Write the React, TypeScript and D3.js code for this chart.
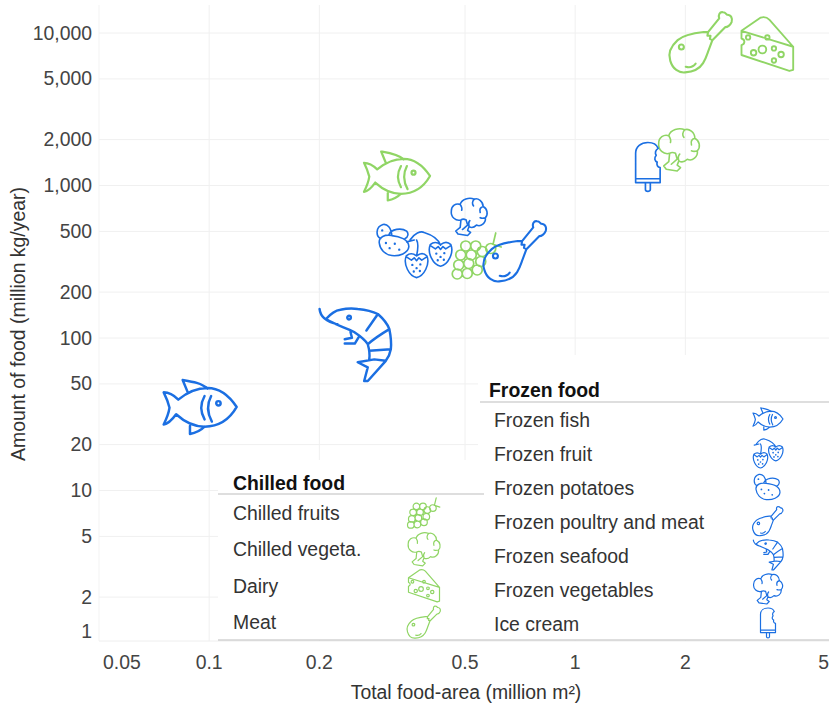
import React from 'react';
import * as d3 from 'd3';

// one row per product, same order in every list
const foodNames = ['Chilled fish', 'Frozen fish', 'Frozen seafood', 'Frozen potatoes', 'Frozen fruit', 'Frozen vegetables', 'Chilled fruits', 'Frozen poultry and meat', 'Meat', 'Dairy', 'Chilled vegeta.', 'Ice cream'];
const foodArea = [0.326, 0.0945, 0.25, 0.32, 0.397, 0.513, 0.54, 0.686, 2.21, 3.35, 1.92, 1.58];
const foodAmount = [1155, 35.3, 90, 439, 355, 622, 345, 372, 8730, 8470, 1710, 1322];

const xTicks = [0.05, 0.1, 0.2, 0.5, 1, 2, 5];
const yTicks = [1, 2, 5, 10, 20, 50, 100, 200, 500, 1000, 2000, 5000, 10000];

const chilledLegend = ['Chilled fruits', 'Chilled vegeta.', 'Dairy', 'Meat'];
const frozenLegend = ['Frozen fish', 'Frozen fruit', 'Frozen potatoes', 'Frozen poultry and meat', 'Frozen seafood', 'Frozen vegetables', 'Ice cream'];

const BLUE = '#1b6fe2';
const GREEN = '#90d565';
const FONT = '"Liberation Sans", Arial, sans-serif';

const dot = (cx: number, cy: number, r: number) =>
  `M${cx - r},${cy}a${r},${r} 0 1 0 ${2 * r},0a${r},${r} 0 1 0 ${-2 * r},0`;

const berry = (x: number, y: number) =>
  `M${x - 22},${y - 17}C${x - 13},${y - 25} ${x - 5},${y - 21} ${x},${y - 17}C${x + 5},${y - 21} ${x + 14},${y - 25} ${x + 22},${y - 17}C${x + 29},${y} ${x + 16},${y + 26} ${x},${y + 29}C${x - 16},${y + 26} ${x - 29},${y} ${x - 22},${y - 17}Z` +
  `M${x - 20},${y - 14}L${x - 11},${y - 8}L${x - 5},${y - 13}L${x},${y - 7}L${x + 5},${y - 13}L${x + 11},${y - 8}L${x + 20},${y - 14}` +
  dot(x - 9, y + 2, 0.8) + dot(x + 8, y + 1, 0.8) + dot(x, y + 9, 0.8) + dot(x - 6, y + 16, 0.8) + dot(x + 7, y + 15, 0.8);

// icon outlines on a 100 x 100 box centred on the origin
const icons: Record<string, string> = {
  fish:
    'M-30,-10C-18,-20 -4,-26 10,-26C28,-26 42,-12 50,0C42,14 28,27 6,27C-8,27 -22,20 -33,10C-38,17 -44,23 -50,24C-46,16 -43,8 -42,1C-44,-7 -47,-14 -50,-20C-42,-20 -36,-16 -30,-10Z' +
    'M-17,-20L-24,-37C-12,-35 2,-33 10,-25M-14,26L-14,37C-8,36 0,33 6,27M6,-15Q-3,1 6,17M15,-15Q6,2 16,20' + dot(25, -5, 3),
  shrimp:
    'M-49,-50C-48,-40 -40,-32 -24,-29M-40,-36C-34,-43 -28,-48 -20,-49C-10,-51 -4,-51 4,-50C14,-49 24,-47 32,-43C40,-36 45,-30 48,-22C50,-12 51,-2 50,6C49,12 46,18 43,22L27,20M-40,-36C-28,-28 -12,-24 -1,-18C8,-12 14,-8 18,-1C20,6 21,14 20,20M32,-43C26,-34 20,-26 16,-20M48,-22C38,-16 28,-10 18,-1M50,6L20,8M27,20L4,24L18,31L13,50L18,50L43,22M-6,-18L-4,-10L-14,-8M6,-12L0,-2L-14,-2' + dot(-8, -38, 2.5),
  potato:
    'M-40,8C-42,-8 -24,-16 -6,-12C14,-10 40,-2 40,18C38,36 14,44 -6,42C-24,40 -38,26 -40,8ZM-36,-4C-50,-10 -50,-36 -30,-42C-18,-44 -8,-34 -6,-12M-14,-14C-8,-30 20,-34 34,-24C40,-18 38,-8 30,-4' +
    dot(-22, 8, 1) + dot(-12, 22, 1) + dot(2, 10, 1) + dot(14, 26, 1) + dot(-32, -26, 1),
  strawberry:
    berry(-25, 21) + berry(26, -3) +
    'M-39,-30C-30,-44 -16,-50 -9,-46C4,-42 20,-36 26,-19M-25,-30C-20,-22 -22,-10 -25,4M-46,-26L-30,-30',
  broccoli:
    'M-22,8C-36,12 -50,0 -48,-16C-48,-30 -36,-38 -24,-34C-20,-48 0,-54 14,-48C24,-52 38,-42 38,-28C50,-22 52,-6 44,2C46,16 32,28 20,22C14,28 6,30 0,26L-4,36L4,42L-4,50L-30,46L-36,38L-24,28Z' +
    'M-24,-34C-20,-28 -18,-24 -20,-18M14,-48C8,-42 8,-34 12,-30M38,-28C30,-26 28,-20 30,-12M44,2C38,4 34,4 30,2M-8,8L-4,22L-18,34M-22,8C-16,4 -12,6 -8,8M0,26C-2,20 -2,14 2,10',
  grapes:
    dot(-23, -20, 10) + dot(-3, -20, 10) + dot(10, -9, 10) + dot(27, -15, 10) +
    dot(-33, -2, 10) + dot(-12, -2, 10) + dot(7, 11, 10) + dot(-37, 18, 10) + dot(-17, 15, 10) +
    dot(0, 28, 10) + dot(-40, 36, 10) + dot(-20, 35, 10) + 'M32,-25L37,-46M30,-24L48,-18',
  drumstick:
    'M4,-16C-14,-14 -30,-10 -38,-3C-48,6 -54,18 -50,30C-46,44 -36,50 -26,49C-12,48 -2,42 3,34C8,26 10,18 12,13L18,-3L14,-5L15,-10L10,-10L11,-16L4,-16ZM11,-16L29,-38C27,-44 30,-49 35,-48C40,-48 40,-44 42,-44C48,-44 51,-38 49,-32C47,-27 42,-24 39,-24L18,-3M-25,40C-18,42 -12,39 -9,35' + dot(-32, 8, 4),
  cheese:
    'M-47,-24L-12,-48C-6,-50 0,-48 4,-44L47,5L47,47L40,49L-47,20L-47,2C-40,0 -40,-8 -47,-10ZM-47,-24L47,5' +
    dot(-35, -12, 4) + dot(-9, 10, 7) + dot(-25, 16, 5) + dot(12, 8, 4) + dot(25, 19, 5) + dot(12, 30, 4) + dot(0, -12, 4),
  icecream:
    'M-25,32L-25,-28C-25,-42 -14,-50 0,-50C10,-50 18,-46 21,-38C15,-34 14,-28 17,-24C12,-18 14,-12 19,-10C17,-4 20,0 25,1L25,32ZM-25,24L25,24M-5,32L-5,46C-5,51 5,51 5,46L5,32',
};

// product -> icon drawn for it and how big it is drawn on the plot
const iconOf: Record<string, string> = {
  'Chilled fish': 'fish', 'Frozen fish': 'fish', 'Frozen seafood': 'shrimp', 'Frozen potatoes': 'potato', 'Frozen fruit': 'strawberry', 'Frozen vegetables': 'broccoli', 'Chilled fruits': 'grapes', 'Frozen poultry and meat': 'drumstick', Meat: 'drumstick', Dairy: 'cheese', 'Chilled vegeta.': 'broccoli', 'Ice cream': 'icecream',
};
const plotSize: Record<string, number> = {
  'Chilled fish': 66, 'Frozen fish': 73, 'Frozen seafood': 72, 'Frozen potatoes': 37, 'Frozen fruit': 47, 'Frozen vegetables': 37, 'Chilled fruits': 50, 'Frozen poultry and meat': 62, Meat: 62, Dairy: 55, 'Chilled vegeta.': 42, 'Ice cream': 49,
};

const isFrozen = (name: string) => name.startsWith('Frozen') || name === 'Ice cream';

const Icon: React.FC<{ name: string; x: number; y: number; size: number; sw: number }> = ({ name, x, y, size, sw }) => (
  <path
    d={icons[iconOf[name]]}
    transform={`translate(${x},${y}) scale(${size / 100})`}
    fill="none"
    stroke={isFrozen(name) ? BLUE : GREEN}
    strokeWidth={sw}
    strokeLinejoin="round"
    strokeLinecap="round"
    vectorEffect="non-scaling-stroke"
  />
);

export default function App() {
  const width = 829;
  const height = 706;
  const x = d3.scaleLog().domain([0.05, 5]).range([99, 831]);
  const y = d3.scaleLog().domain([1, 10000]).range([643, 33]);
  const fmt = d3.format(',');
  const chilledRow = d3.scalePoint<string>().domain(chilledLegend).range([513, 622]);
  const frozenRow = d3.scalePoint<string>().domain(frozenLegend).range([420, 624]);
  const fs = 19.4;

  return (
    <svg width={width} height={height} style={{ position: 'absolute', left: 0, top: 0 }} fontFamily={FONT}>
      <rect width={width} height={height} fill="#fff" />
      {/* grid */}
      <line x1={99} x2={99} y1={5} y2={641} stroke="#f3f3f3" />
      {xTicks.slice(1).map(t => (
        <line key={t} x1={x(t)} x2={x(t)} y1={5} y2={641} stroke="#f0f0f0" />
      ))}
      {yTicks.slice(1).map(t => (
        <line key={t} x1={99} x2={829} y1={y(t)} y2={y(t)} stroke="#f0f0f0" />
      ))}
      <line x1={99} x2={829} y1={641} y2={641} stroke="#eeeeee" />

      {/* marks */}
      {foodNames.map((name, i) => (
        <Icon key={name} name={name} x={x(foodArea[i])} y={y(foodAmount[i])} size={plotSize[name]} sw={Math.max(1.6, plotSize[name] * 0.034)} />
      ))}

      {/* legends sit on white panels that hide the grid */}
      <rect x={218} y={460} width={262} height={180} fill="#fff" />
      <rect x={478} y={355} width={351} height={285} fill="#fff" />

      <text x={233} y={490} fontSize={fs} fontWeight="bold" fill="#111">Chilled food</text>
      <line x1={218} x2={484} y1={494} y2={494} stroke="#bdbdbd" />
      {chilledLegend.map(name => (
        <g key={name}>
          <text x={233} y={chilledRow(name)! + 7} fontSize={fs} fill="#333">{name}</text>
          <Icon name={name} x={424} y={chilledRow(name)!} size={33} sw={1.2} />
        </g>
      ))}

      <text x={489} y={397} fontSize={fs} fontWeight="bold" fill="#111">Frozen food</text>
      <line x1={480} x2={829} y1={402} y2={402} stroke="#bdbdbd" />
      {frozenLegend.map(name => (
        <g key={name}>
          <text x={494} y={frozenRow(name)! + 7} fontSize={fs} fill="#333">{name}</text>
          <Icon name={name} x={768} y={frozenRow(name)! - 1} size={30} sw={1.2} />
        </g>
      ))}
      <line x1={218} x2={829} y1={640} y2={640} stroke="#bdbdbd" />

      {/* axes */}
      {yTicks.map(t => (
        <text key={t} x={92} y={t === 1 ? 638 : y(t) + 6.5} textAnchor="end" fontSize={fs} fill="#444">{fmt(t)}</text>
      ))}
      {xTicks.map(t => (
        <text
          key={t}
          x={t === 0.05 ? 103 : t === 5 ? 829 : x(t)}
          y={669}
          textAnchor={t === 0.05 ? 'start' : t === 5 ? 'end' : 'middle'}
          fontSize={fs}
          fill="#444"
        >
          {t}
        </text>
      ))}
      <text x={466} y={699} textAnchor="middle" fontSize={fs} fill="#333">Total food-area (million m²)</text>
      <text transform="translate(25,324) rotate(-90)" textAnchor="middle" fontSize={fs} fill="#333">Amount of food (million kg/year)</text>
    </svg>
  );
}
